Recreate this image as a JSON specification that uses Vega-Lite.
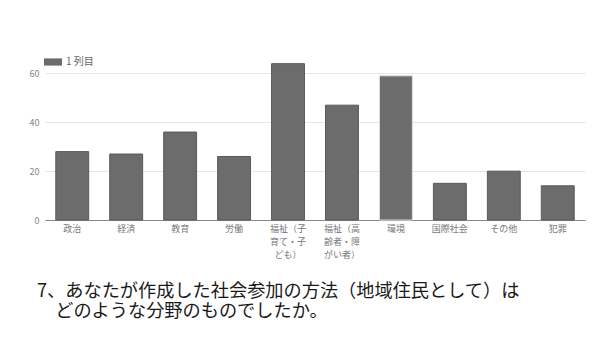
{
  "$schema": "https://vega.github.io/schema/vega-lite/v6.json",
  "autosize": "none",
  "width": 540,
  "height": 171,
  "padding": {"left": 45, "top": 49, "right": 9, "bottom": 118},
  "background": "white",
  "config": {
    "view": {"stroke": null},
    "font": "Noto Sans CJK JP"
  },
  "title": {
    "text": ["7、あなたが作成した社会参加の方法（地域住民として）は", "\u200b\u3000どのような分野のものでしたか。"],
    "orient": "bottom",
    "anchor": "start",
    "frame": "group",
    "dx": -8,
    "offset": 24,
    "baseline": "top",
    "fontSize": 18.2,
    "lineHeight": 20,
    "fontWeight": "normal",
    "color": "#1a1a1a",
    "font": "Noto Sans CJK JP"
  },
  "data": {
    "values": [
      {"cat": "政治", "value": 28, "series": "1 列目"},
      {"cat": "経済", "value": 27, "series": "1 列目"},
      {"cat": "教育", "value": 36, "series": "1 列目"},
      {"cat": "労働", "value": 26, "series": "1 列目"},
      {"cat": "福祉（子\n育て・子\nども）", "value": 64, "series": "1 列目"},
      {"cat": "福祉（高\n齢者・障\nがい者）", "value": 47, "series": "1 列目"},
      {"cat": "環境", "value": 59, "series": "1 列目"},
      {"cat": "国際社会", "value": 15, "series": "1 列目"},
      {"cat": "その他", "value": 20, "series": "1 列目"},
      {"cat": "犯罪", "value": 14, "series": "1 列目"}
    ]
  },
  "mark": {"type": "bar", "strokeWidth": 1},
  "encoding": {
    "x": {
      "field": "cat",
      "type": "nominal",
      "sort": null,
      "scale": {"paddingInner": 0.39, "paddingOuter": 0.2},
      "axis": {
        "title": null,
        "labelAngle": 0,
        "labelExpr": "split(datum.label, '\\n')",
        "labelFontSize": 9,
        "labelColor": "#777777",
        "labelLineHeight": 13,
        "labelPadding": 4,
        "ticks": false,
        "domainColor": "#888888",
        "labelBaseline": "top"
      }
    },
    "y": {
      "field": "value",
      "type": "quantitative",
      "scale": {"domain": [0, 70], "nice": false},
      "axis": {
        "title": null,
        "values": [0, 20, 40, 60],
        "labelFontSize": 9,
        "labelColor": "#888888",
        "labelPadding": 6,
        "ticks": false,
        "domain": false,
        "gridColor": "#e6e6e6",
        "gridWidth": 1
      }
    },
    "color": {
      "field": "series",
      "type": "nominal",
      "scale": {"range": ["#6c6c6c"]},
      "legend": {
        "title": null,
        "orient": "none",
        "legendX": -1,
        "legendY": 4,
        "symbolType": "M-1,-0.4L1,-0.4L1,0.4L-1,0.4Z",
        "symbolSize": 324,
        "symbolStrokeWidth": 0,
        "labelFontSize": 10,
        "labelColor": "#666666",
        "labelOffset": 4
      }
    },
    "stroke": {
      "condition": {"test": "datum.cat === '環境'", "value": "#dddddd"},
      "value": "#5a5a5a"
    }
  }
}
